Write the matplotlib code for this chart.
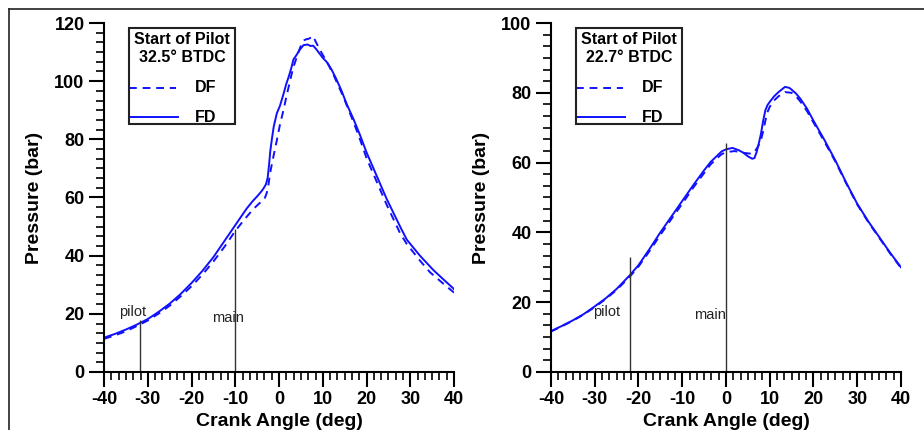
import numpy as np
import matplotlib
matplotlib.use("Agg")
import matplotlib.pyplot as plt
from matplotlib.lines import Line2D
from matplotlib.patches import Rectangle
from matplotlib.ticker import FixedLocator, MultipleLocator

plt.rcParams['font.family'] = ['Liberation Sans', 'DejaVu Sans']
plt.rcParams['axes.unicode_minus'] = False

# ---- Left panel: Start of pilot 32.5 deg BTDC ----
left_fd_x = [-40, -37.5, -35, -32.5, -30, -27.5, -25, -22.5, -20, -17.5, -15, -12.5, -10, -8.5, -7.4, -6, -5, -4.2, -3.6, -3.0, -2.6, -2.3, -2.0, -1.6, -1.2, -0.5, 0.2, 1.0, 1.6, 2.2, 2.8, 3.3, 4.0, 4.5, 5.0, 5.6, 6.5, 7.2, 7.8, 8.5, 9.2, 10.0, 10.9, 12.0, 13.0, 14.2, 15.5, 17.0, 18.5, 20.0, 22.3, 24.6, 27.7, 29.2, 32.2, 35.3, 37.6, 40]
left_fd_y = [11.8, 13.1, 14.6, 16.3, 18.2, 20.7, 23.5, 26.8, 30.6, 34.8, 39.5, 45.0, 50.5, 53.8, 56.2, 58.8, 60.4, 61.8, 63.0, 64.5, 66.8, 71.0, 76.0, 80.5, 84.5, 89.0, 91.5, 95.5, 98.8, 101.5, 104.5, 107.5, 109.0, 110.3, 111.3, 112.4, 112.6, 112.1, 112.2, 111.0, 109.6, 108.0, 106.6, 104.0, 101.0, 97.0, 92.0, 87.0, 81.5, 75.5, 67.5, 59.5, 49.9, 45.5, 40.0, 35.0, 31.8, 28.5]
left_df_x = [-40, -37.5, -35, -32.5, -30, -27.5, -25, -22.5, -20, -17.5, -15, -12.5, -10, -8.0, -5.9, -4.5, -3.3, -2.8, -2.4, -2.1, -1.7, -1.3, -0.5, 0.2, 1.0, 1.8, 2.5, 3.2, 4.0, 4.8, 5.6, 6.2, 6.8, 7.3, 7.8, 8.4, 9.4, 10.2, 11.0, 12.5, 14.7, 17.0, 18.5, 20.0, 22.3, 24.6, 27.7, 29.2, 32.2, 34.5, 37.6, 40]
left_df_y = [11.4, 12.6, 14.0, 15.8, 17.7, 20.1, 22.8, 26.0, 29.5, 33.5, 38.0, 43.0, 48.5, 52.3, 56.0, 58.0, 59.6, 61.6, 64.5, 68.0, 71.0, 74.0, 79.7, 85.0, 90.0, 95.5, 100.0, 104.5, 108.0, 111.5, 114.0, 114.4, 114.6, 115.0, 115.5, 113.5, 110.6, 108.5, 106.5, 102.0, 94.6, 86.0, 80.0, 73.5, 65.5, 57.5, 47.6, 44.0, 38.3, 34.3, 30.3, 27.3]
left_pilot_angle, left_pilot_top = -31.8, 18.0
left_main_angle, left_main_top = -10.0, 49.0
left_title = ["Start of Pilot", "32.5\u00b0 BTDC"]
left_ymax = 120

# ---- Right panel: Start of pilot 22.7 deg BTDC ----
right_fd_x = [-40, -37.5, -35, -32.5, -30, -27.5, -25, -22, -20, -17.5, -15, -12.5, -10, -7.5, -5, -3.5, -2, -1, 0, 1.5, 3, 4, 5, 6, 6.5, 7, 7.5, 8, 8.5, 9, 9.5, 10, 11, 12, 13, 13.5, 14.5, 15, 16, 17, 18.5, 20, 22.5, 25, 27.5, 30, 32.5, 35, 37.5, 40]
right_fd_y = [11.7, 13.2, 14.8, 16.6, 18.8, 21.1, 23.8, 27.7, 30.6, 35.2, 40.0, 44.5, 49.0, 53.5, 57.8, 60.2, 62.0, 63.2, 63.8, 64.2, 63.5, 62.8, 61.8, 61.1, 61.3, 63.0, 65.5, 68.3, 72.0, 75.0, 76.5, 77.4, 79.0, 80.2, 81.2, 81.7, 81.4, 80.9, 79.8, 78.3, 75.5, 72.0, 66.5, 60.6, 54.2, 48.2, 43.2, 38.7, 34.2, 30.0]
right_df_x = [-40, -37.5, -35, -32.5, -30, -27.5, -25, -22, -20, -17.5, -15, -12.5, -10, -7.5, -5, -3.5, -2, -1, 0, 2, 4, 6, 6.5, 7, 7.5, 8, 8.5, 9, 9.5, 10, 11, 12, 13.5, 15, 16, 17, 18.5, 20, 22.5, 25, 27.5, 30, 32.5, 35, 37.5, 40]
right_df_y = [11.6, 13.1, 14.7, 16.5, 18.6, 20.9, 23.5, 27.3, 30.2, 34.6, 39.3, 43.8, 48.2, 52.8, 57.0, 59.5, 61.3, 62.4, 63.0, 63.3, 62.8, 62.5, 63.0, 64.0, 65.0, 66.5, 69.0, 72.0, 74.5, 76.0, 77.8, 79.0, 80.2, 80.0, 79.0, 77.5, 74.8, 71.5, 66.0, 60.3, 54.0, 48.0, 43.0, 38.5, 34.0, 29.8]
right_pilot_angle, right_pilot_top = -22.0, 33.0
right_main_angle, right_main_top = 0.0, 65.5
right_title = ["Start of Pilot", "22.7\u00b0 BTDC"]
right_ymax = 100

x_major = [-40, -30, -20, -10, 0, 10, 20, 30, 40]
blue = '#1010ff'

fig = plt.figure(figsize=(9.24, 4.30), dpi=100)

def panel(rect, fd_x, fd_y, df_x, df_y, pilot, pilot_top, main, main_top, title, ymax, pilot_lab, main_lab):
    ax = fig.add_axes(rect)
    ax.plot(df_x, df_y, color=blue, lw=1.4, ls=(0, (4, 3)))
    ax.plot(fd_x, fd_y, color=blue, lw=1.4)
    ax.vlines([pilot, main], 0, [pilot_top, main_top], color='#333333', lw=1.0)
    ax.text(pilot_lab[0], pilot_lab[1], 'pilot', fontsize=10.5, color='#222222', ha='center', va='center')
    ax.text(main_lab[0], main_lab[1], 'main', fontsize=10.5, color='#222222', ha='center', va='center')
    ax.set_xlim(-40, 40)
    ax.set_ylim(0, ymax)
    for s in ['top', 'right']:
        ax.spines[s].set_visible(False)
    for s in ['left', 'bottom']:
        ax.spines[s].set_linewidth(1.5)
    ax.xaxis.set_major_locator(FixedLocator(x_major))
    ax.xaxis.set_minor_locator(FixedLocator([v for v in np.arange(-40, 40.01, 10/6)]))
    ax.yaxis.set_major_locator(MultipleLocator(20))
    ax.yaxis.set_minor_locator(FixedLocator([v for v in np.arange(0, ymax + 0.01, 20/6)]))
    ax.tick_params(which='major', direction='out', length=11, width=1.5, labelsize=13, pad=3)
    ax.tick_params(which='minor', direction='out', length=6, width=1.2)
    for lab in ax.get_xticklabels() + ax.get_yticklabels():
        lab.set_fontweight('bold')
    ax.set_xlabel('Crank Angle (deg)', fontsize=14, fontweight='bold', labelpad=3)
    ax.set_ylabel('Pressure (bar)', fontsize=14, fontweight='bold', labelpad=8)
    # legend box
    x0, x1, y0, y1 = 0.072, 0.374, 0.711, 0.986
    ax.add_patch(Rectangle((x0, y0), x1 - x0, y1 - y0, transform=ax.transAxes,
                           fill=False, ec='#222222', lw=1.5, zorder=5))
    ax.text(0.223, 0.952, title[0], transform=ax.transAxes, ha='center', va='center',
            fontsize=11.5, fontweight='bold')
    ax.text(0.223, 0.900, title[1], transform=ax.transAxes, ha='center', va='center',
            fontsize=11.5, fontweight='bold')
    ax.add_line(Line2D([x0, 0.205], [0.814, 0.814], transform=ax.transAxes, color=blue, lw=1.4, ls=(0, (4, 3))))
    ax.add_line(Line2D([x0, 0.212], [0.731, 0.731], transform=ax.transAxes, color=blue, lw=1.4))
    ax.text(0.26, 0.814, 'DF', transform=ax.transAxes, ha='left', va='center', fontsize=11.5, fontweight='bold')
    ax.text(0.26, 0.728, 'FD', transform=ax.transAxes, ha='left', va='center', fontsize=11.5, fontweight='bold')
    return ax

panel([0.1126, 0.1349, 0.3788, 0.8116], left_fd_x, left_fd_y, left_df_x, left_df_y,
      left_pilot_angle, left_pilot_top, left_main_angle, left_main_top, left_title, left_ymax,
      (-33.5, 20.6), (-11.7, 18.6))
panel([0.5963, 0.1349, 0.3788, 0.8116], right_fd_x, right_fd_y, right_df_x, right_df_y,
      right_pilot_angle, right_pilot_top, right_main_angle, right_main_top, right_title, right_ymax,
      (-27.2, 17.2), (-3.7, 16.3))

# figure frame (top and left edges visible)
fig.add_artist(Line2D([9 / 924, 1.0], [1 - 9 / 430, 1 - 9 / 430], transform=fig.transFigure, color='#222222', lw=1.2))
fig.add_artist(Line2D([9 / 924, 9 / 924], [0, 1 - 9 / 430], transform=fig.transFigure, color='#222222', lw=1.2))

fig.savefig('out.png', dpi=100)
